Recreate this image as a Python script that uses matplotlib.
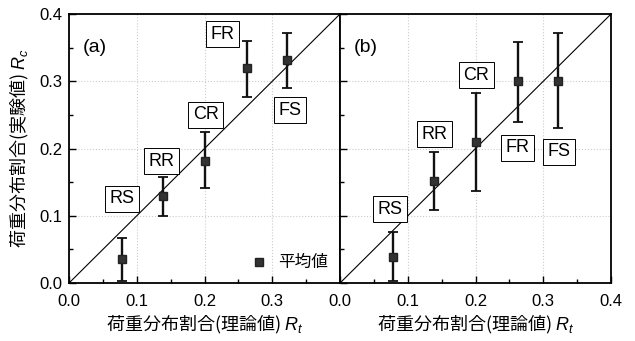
import matplotlib.pyplot as plt
from matplotlib.ticker import MultipleLocator

plt.rcParams['font.family'] = ['Liberation Sans', 'DejaVu Sans']
plt.rcParams['mathtext.fontset'] = 'custom'
plt.rcParams['mathtext.it'] = 'Liberation Sans:italic'
plt.rcParams['mathtext.rm'] = 'Liberation Sans'
JP = ['Noto Sans CJK JP', 'DejaVu Sans']

labels = ['RS', 'RR', 'CR', 'FR', 'FS']
rt = [0.078, 0.138, 0.200, 0.262, 0.322]

# (a)
rc_a = [0.035, 0.129, 0.182, 0.319, 0.331]
lo_a = [0.003, 0.100, 0.141, 0.277, 0.290]
hi_a = [0.067, 0.158, 0.225, 0.360, 0.371]
lab_a = [(0.078, 0.125), (0.137, 0.181), (0.202, 0.250), (0.226, 0.370), (0.326, 0.257)]

# (b)
rc_b = [0.039, 0.152, 0.210, 0.300, 0.300]
lo_b = [0.003, 0.109, 0.137, 0.239, 0.230]
hi_b = [0.076, 0.195, 0.282, 0.359, 0.371]
lab_b = [(0.074, 0.110), (0.139, 0.221), (0.201, 0.309), (0.262, 0.201), (0.323, 0.195)]

fig = plt.figure(figsize=(6.35, 3.41), dpi=100)
ax1 = fig.add_axes([0.1087, 0.170, 0.4268, 0.789])
ax2 = fig.add_axes([0.5355, 0.170, 0.4268, 0.789])

def panel(ax, rc, lo, hi, labpos, tag):
    ax.plot([0, 0.4], [0, 0.4], color='black', lw=0.8)
    yerr = [[c - l for c, l in zip(rc, lo)], [h - c for c, h in zip(rc, hi)]]
    ax.errorbar(rt, rc, yerr=yerr, fmt='none', ecolor='#111111', elinewidth=1.7,
                capsize=3.5, capthick=1.3, zorder=3)
    ax.plot(rt, rc, 's', ms=6, mfc='#333333', mec='#222222', zorder=4, label='平均値')
    for name, (x, y) in zip(labels, labpos):
        ax.text(x, y, name, ha='center', va='center', fontsize=13,
                bbox=dict(boxstyle='square,pad=0.25', fc='white', ec='black', lw=0.7))
    ax.text(0.038, 0.35, tag, ha='center', va='center', fontsize=14)
    ax.set_xlim(0, 0.4)
    ax.set_ylim(0, 0.4)
    ax.xaxis.set_major_locator(MultipleLocator(0.1))
    ax.yaxis.set_major_locator(MultipleLocator(0.1))
    ax.xaxis.set_minor_locator(MultipleLocator(0.05))
    ax.yaxis.set_minor_locator(MultipleLocator(0.05))
    ax.tick_params(which='both', direction='in', labelsize=12, width=1)
    ax.tick_params(which='major', length=5)
    ax.tick_params(which='minor', length=3)
    ax.tick_params(axis='x', which='major', pad=8)
    ax.tick_params(axis='y', which='major', pad=5)
    ax.grid(True, which='major', ls=':', color='#cccccc', lw=0.8)
    for s in ax.spines.values():
        s.set_linewidth(1.3)
    ax.yaxis.set_major_formatter(plt.FuncFormatter(lambda v, p: f'{v:.1f}'))
    ax.set_xlabel('荷重分布割合(理論値) $R_t$', fontsize=13, labelpad=3, family=JP)

panel(ax1, rc_a, lo_a, hi_a, lab_a, '(a)')
panel(ax2, rc_b, lo_b, hi_b, lab_b, '(b)')
ax1.xaxis.set_major_formatter(plt.FuncFormatter(lambda v, p: '' if v > 0.35 else f'{v:.1f}'))
ax2.xaxis.set_major_formatter(plt.FuncFormatter(lambda v, p: f'{v:.1f}'))
ax1.set_ylabel('荷重分布割合(実験値) $R_c$', fontsize=13, labelpad=6, family=JP)
ax2.tick_params(axis='y', labelleft=False)
leg = ax1.legend(loc='lower right', frameon=False, prop={'family': JP, 'size': 12},
                 handletextpad=0.6, borderaxespad=0.3, handlelength=1.2)

fig.savefig('out.png', dpi=100)
